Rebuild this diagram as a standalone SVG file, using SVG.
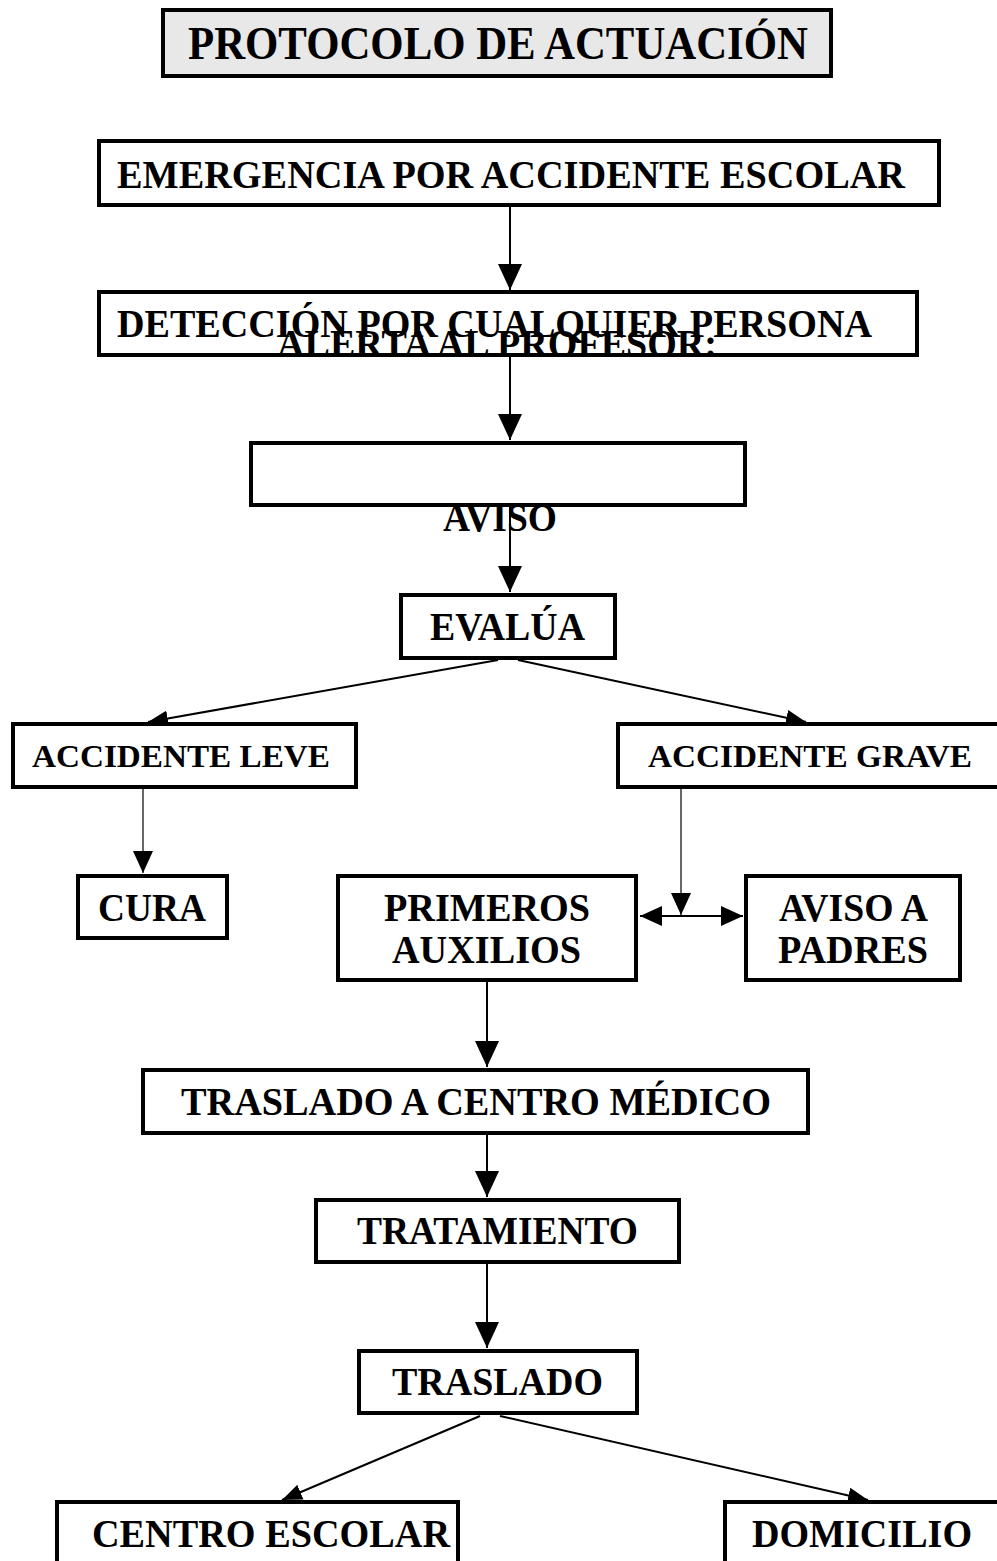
<svg xmlns="http://www.w3.org/2000/svg" width="997" height="1561" viewBox="0 0 997 1561">
<style>
.box{fill:#fff;stroke:#000;stroke-width:4}
.t{font-family:"Liberation Serif","Times New Roman",serif;font-weight:bold;fill:#000}
.c{stroke:#000;fill:none}
.w2{stroke-width:2}
.w1{stroke-width:1.2}
</style>
<defs>
<marker id="ah" markerUnits="userSpaceOnUse" markerWidth="28" markerHeight="24" refX="26" refY="12" orient="auto">
<path d="M0,0 L26,12 L0,24 Z" fill="#000"/>
</marker>
<marker id="ahm" markerUnits="userSpaceOnUse" markerWidth="24" markerHeight="20" refX="22" refY="10" orient="auto">
<path d="M0,0 L22,10 L0,20 Z" fill="#000"/>
</marker>
<marker id="ahms" markerUnits="userSpaceOnUse" markerWidth="24" markerHeight="20" refX="22" refY="10" orient="auto-start-reverse">
<path d="M0,0 L22,10 L0,20 Z" fill="#000"/>
</marker>
<marker id="ahd" markerUnits="userSpaceOnUse" markerWidth="22" markerHeight="16" refX="20" refY="8" orient="auto">
<path d="M0,0 L20,8 L0,16 Z" fill="#000"/>
</marker>
</defs>
<rect width="997" height="1561" fill="#fff"/>
<g id="title">
<rect x="163" y="10" width="668" height="66" fill="#e8e8e8" stroke="#000" stroke-width="4"/>
<text class="t" x="188" y="59" font-size="46" textLength="620" lengthAdjust="spacingAndGlyphs">PROTOCOLO DE ACTUACIÓN</text>
</g>
<g id="connectors">
<line class="c w2" x1="510" y1="206" x2="510" y2="290" marker-end="url(#ah)"/>
<line class="c w2" x1="510" y1="356" x2="510" y2="440" marker-end="url(#ah)"/>
<line class="c w2" x1="510" y1="507" x2="510" y2="592" marker-end="url(#ah)"/>
<line class="c w2" x1="498" y1="660" x2="148" y2="722" marker-end="url(#ahd)"/>
<line class="c w2" x1="518" y1="660" x2="806" y2="722" marker-end="url(#ahd)"/>
<line class="c w1" x1="143" y1="789" x2="143" y2="873" marker-end="url(#ahm)"/>
<line class="c w1" x1="681" y1="789" x2="681" y2="915" marker-end="url(#ahm)"/>
<line class="c w2" x1="640" y1="916" x2="743" y2="916" marker-start="url(#ahms)" marker-end="url(#ahm)"/>
<line class="c w2" x1="487" y1="982" x2="487" y2="1067" marker-end="url(#ah)"/>
<line class="c w2" x1="487" y1="1135" x2="487" y2="1197" marker-end="url(#ah)"/>
<line class="c w2" x1="487" y1="1264" x2="487" y2="1348" marker-end="url(#ah)"/>
<line class="c w2" x1="480" y1="1416" x2="282" y2="1500" marker-end="url(#ahd)"/>
<line class="c w2" x1="500" y1="1416" x2="868" y2="1500" marker-end="url(#ahd)"/>
</g>
<g id="n_emergencia">
<rect class="box" x="99" y="141" width="840" height="64"/>
<text class="t" x="117" y="188" font-size="40" textLength="788" lengthAdjust="spacingAndGlyphs">EMERGENCIA POR ACCIDENTE ESCOLAR</text>
</g>
<g id="n_deteccion">
<rect class="box" x="99" y="292" width="818" height="63"/>
<text class="t" x="117" y="337" font-size="40" textLength="755" lengthAdjust="spacingAndGlyphs">DETECCIÓN POR CUALQUIER PERSONA</text>
<text class="t" x="277" y="357" font-size="40" textLength="440" lengthAdjust="spacingAndGlyphs">ALERTA AL PROFESOR:</text>
</g>
<g id="n_aviso">
<rect class="box" x="251" y="443" width="494" height="62"/>
<text class="t" x="443" y="531" font-size="40" textLength="114" lengthAdjust="spacingAndGlyphs">AVISO</text>
</g>
<g id="n_evalua">
<rect class="box" x="401" y="595" width="214" height="63"/>
<text class="t" x="430" y="640" font-size="40" textLength="155" lengthAdjust="spacingAndGlyphs">EVALÚA</text>
</g>
<g id="n_leve">
<rect class="box" x="13" y="724" width="343" height="63"/>
<text class="t" x="32" y="767" font-size="32" textLength="298" lengthAdjust="spacingAndGlyphs">ACCIDENTE LEVE</text>
</g>
<g id="n_grave">
<rect class="box" x="618" y="724" width="385" height="63"/>
<text class="t" x="648" y="767" font-size="32" textLength="324" lengthAdjust="spacingAndGlyphs">ACCIDENTE GRAVE</text>
</g>
<g id="n_cura">
<rect class="box" x="78" y="876" width="149" height="62"/>
<text class="t" x="98" y="921" font-size="40" textLength="108" lengthAdjust="spacingAndGlyphs">CURA</text>
</g>
<g id="n_primeros">
<rect class="box" x="338" y="876" width="298" height="104"/>
<text class="t" x="384" y="921" font-size="40" textLength="206" lengthAdjust="spacingAndGlyphs">PRIMEROS</text>
<text class="t" x="392" y="963" font-size="40" textLength="189" lengthAdjust="spacingAndGlyphs">AUXILIOS</text>
</g>
<g id="n_padres">
<rect class="box" x="746" y="876" width="214" height="104"/>
<text class="t" x="779" y="921" font-size="40" textLength="149" lengthAdjust="spacingAndGlyphs">AVISO A</text>
<text class="t" x="778" y="963" font-size="40" textLength="150" lengthAdjust="spacingAndGlyphs">PADRES</text>
</g>
<g id="n_traslado_medico">
<rect class="box" x="143" y="1070" width="665" height="63"/>
<text class="t" x="181" y="1115" font-size="40" textLength="590" lengthAdjust="spacingAndGlyphs">TRASLADO A CENTRO MÉDICO</text>
</g>
<g id="n_tratamiento">
<rect class="box" x="316" y="1200" width="363" height="62"/>
<text class="t" x="357" y="1244" font-size="40" textLength="281" lengthAdjust="spacingAndGlyphs">TRATAMIENTO</text>
</g>
<g id="n_traslado">
<rect class="box" x="359" y="1351" width="278" height="62"/>
<text class="t" x="392" y="1395" font-size="40" textLength="211" lengthAdjust="spacingAndGlyphs">TRASLADO</text>
</g>
<g id="n_centro">
<rect class="box" x="57" y="1502" width="401" height="80"/>
<text class="t" x="92" y="1547" font-size="40" textLength="358" lengthAdjust="spacingAndGlyphs">CENTRO ESCOLAR</text>
</g>
<g id="n_domicilio">
<rect class="box" x="725" y="1502" width="290" height="80"/>
<text class="t" x="752" y="1547" font-size="40" textLength="220" lengthAdjust="spacingAndGlyphs">DOMICILIO</text>
</g>
</svg>
